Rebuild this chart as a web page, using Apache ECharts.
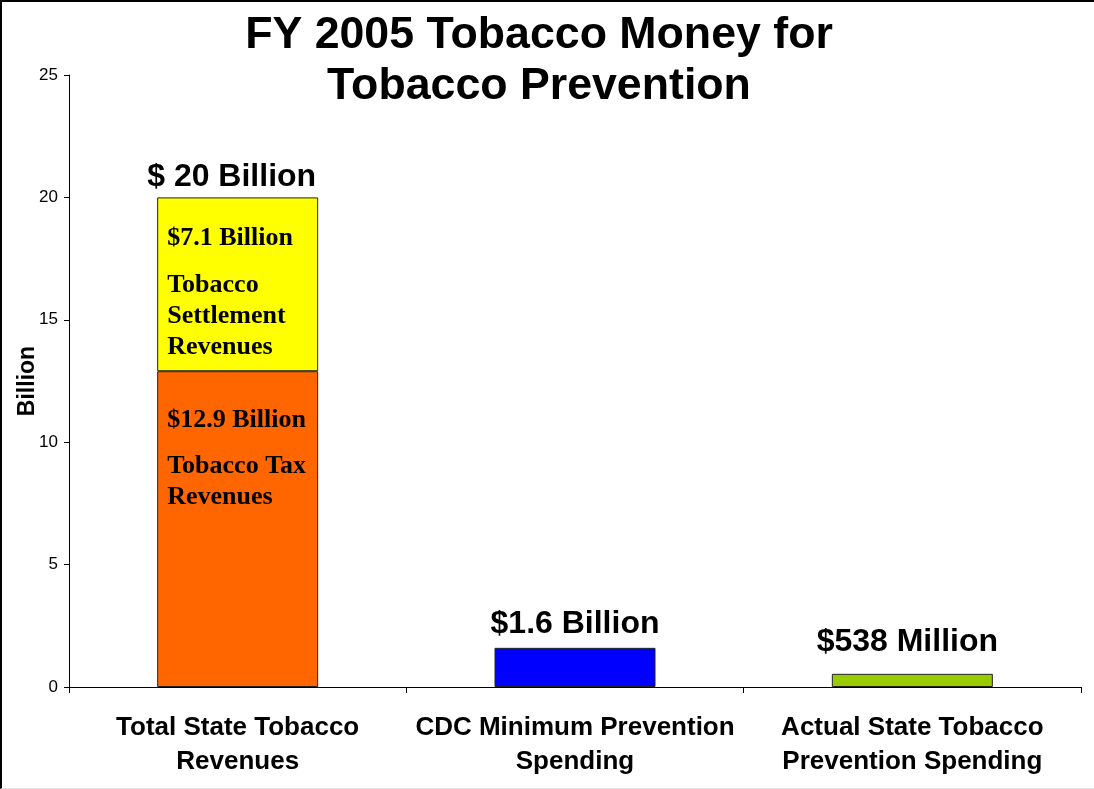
<!DOCTYPE html>
<html>
<head>
<meta charset="utf-8">
<script src="https://cdn.jsdelivr.net/npm/echarts@6/dist/echarts.min.js"></script>
<style>
  html, body { margin: 0; padding: 0; background: #fff; }
  #frame { position: absolute; left: 0; top: 0; width: 1094px; height: 789px; box-sizing: border-box;
           border-top: 2px solid #000; border-left: 2px solid #000; border-bottom: 1px solid #e6e6e6; }
  #chart { position: absolute; left: 0; top: 0; width: 1094px; height: 789px; }
</style>
</head>
<body>
<div id="frame"></div>
<div id="chart"></div>
<script>
// Categories along the horizontal axis
const categories = [
  'Total State Tobacco\nRevenues',
  'CDC Minimum Prevention\nSpending',
  'Actual State Tobacco\nPrevention Spending'
];
// Values in billions of dollars
const taxRevenues        = [12.9, null, null];
const settlementRevenues = [7.1, null, null];
const preventionSpending = [null, 1.6, 0.538];
// Value labels drawn above each bar
const topLabels = ['$ 20 Billion', '$1.6 Billion', '$538 Million'];
// Y axis scale
const yMin = 0, yMax = 25, yStep = 5;

const SANS = '"Liberation Sans", Arial, Helvetica, sans-serif';
const SERIF = '"Liberation Serif", "Times New Roman", serif';
const prevColors = [null, '#0000FF', '#99CC00'];
const topOffsets = [[-6, -4], [0, -8], [-5, -16]];

const chart = echarts.init(document.getElementById('chart'), null, { renderer: 'canvas' });

const insideRich = {
  v: { fontFamily: SERIF, fontWeight: 'bold', fontSize: 26, lineHeight: 62, color: '#000' },
  t: { fontFamily: SERIF, fontWeight: 'bold', fontSize: 26, lineHeight: 31, color: '#000' }
};

const topLabel = (i) => ({
  show: true,
  position: 'top',
  distance: 0,
  offset: topOffsets[i],
  formatter: topLabels[i],
  fontFamily: SANS,
  fontWeight: 'bold',
  fontSize: 32,
  color: '#000'
});

chart.setOption({
  animation: false,
  backgroundColor: 'transparent',
  title: {
    text: 'FY 2005 Tobacco Money for\nTobacco Prevention',
    left: 534,
    textAlign: 'center',
    top: 5,
    textStyle: { fontFamily: SANS, fontWeight: 'bold', fontSize: 44.7, lineHeight: 51, color: '#000' }
  },
  grid: { left: 69, right: 13, top: 75, bottom: 102, containLabel: false },
  xAxis: {
    type: 'category',
    data: categories,
    boundaryGap: true,
    axisLine: { show: true, lineStyle: { color: '#000', width: 1 } },
    axisTick: { show: true, length: 6, lineStyle: { color: '#000' } },
    axisLabel: {
      interval: 0,
      margin: 24,
      fontFamily: SANS, fontWeight: 'bold', fontSize: 26, lineHeight: 34, color: '#000'
    }
  },
  yAxis: {
    type: 'value',
    min: yMin, max: yMax, interval: yStep,
    name: 'Billion',
    nameLocation: 'middle',
    nameRotate: 90,
    nameGap: 30,
    nameMoveOverlap: false,
    nameTextStyle: { fontFamily: SANS, fontWeight: 'bold', fontSize: 23, color: '#000' },
    splitLine: { show: false },
    axisLine: { show: true, lineStyle: { color: '#000', width: 1 } },
    axisTick: { show: true, length: 5, lineStyle: { color: '#000' } },
    axisLabel: { margin: 11, fontFamily: SANS, fontSize: 17, color: '#000' }
  },
  series: [
    {
      name: 'Tobacco Tax Revenues',
      type: 'bar',
      stack: 'total',
      barWidth: 161,
      data: taxRevenues.map(v => v == null ? '-' : v),
      itemStyle: { color: '#FF6600', borderColor: '#222', borderWidth: 1 },
      label: {
        show: true,
        position: 'insideTopLeft',
        distance: 0,
        offset: [10, 18],
        formatter: p => '{v|$' + p.value + ' Billion}\n{t|Tobacco Tax}\n{t|Revenues}',
        rich: insideRich
      }
    },
    {
      name: 'Tobacco Settlement Revenues',
      type: 'bar',
      stack: 'total',
      barWidth: 161,
      data: settlementRevenues.map((v, i) => v == null ? '-' : { value: v, label: topLabel(i) }),
      itemStyle: { color: '#FFFF00', borderColor: '#222', borderWidth: 1 },
      label: {
        show: true
      }
    },
    {
      name: 'Tobacco Settlement Inside',
      type: 'bar',
      stack: 'inside',
      barWidth: 161,
      barGap: '-100%',
      z: 3,
      silent: true,
      data: settlementRevenues.map((v, i) => v == null ? '-' : {
        value: v + taxRevenues[i],
        itemStyle: { color: 'transparent', borderWidth: 0 }
      }),
      label: {
        show: true,
        position: 'insideTopLeft',
        distance: 0,
        offset: [10, 10],
        formatter: p => '{v|$' + settlementRevenues[p.dataIndex] + ' Billion}\n{t|Tobacco}\n{t|Settlement}\n{t|Revenues}',
        rich: insideRich
      }
    },
    {
      name: 'Prevention Spending',
      type: 'bar',
      stack: 'total',
      barWidth: 161,
      data: preventionSpending.map((v, i) => v == null ? '-' : {
        value: v,
        itemStyle: { color: prevColors[i] },
        label: topLabel(i)
      }),
      itemStyle: { borderColor: '#222', borderWidth: 1 }
    }
  ]
});
</script>
</body>
</html>
